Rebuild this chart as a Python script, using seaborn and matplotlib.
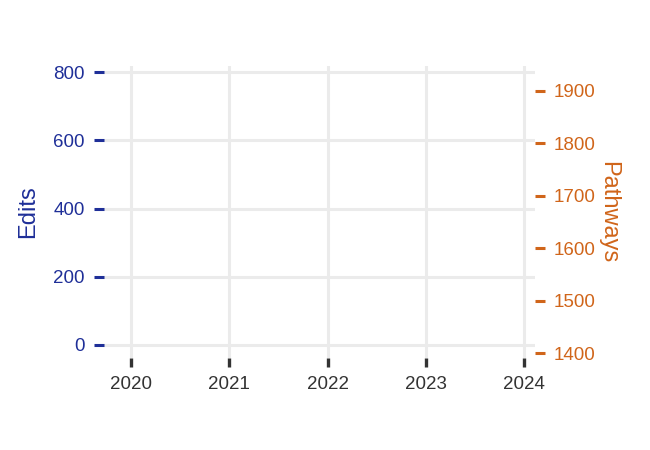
import numpy as np
import pandas as pd
import seaborn as sns
import matplotlib.pyplot as plt

# data (no observations are drawn in the reference, only the axes)
years = [2020, 2021, 2022, 2023, 2024]
edits = [np.nan, np.nan, np.nan, np.nan, np.nan]
pathways = [np.nan, np.nan, np.nan, np.nan, np.nan]
edit_ticks = [0, 200, 400, 600, 800]
pathway_ticks = [1400, 1500, 1600, 1700, 1800, 1900]

blue = '#1f2f98'
orange = '#d0651a'
grey = '#333333'

sns.set_theme(style='whitegrid')
plt.rcParams['font.family'] = ['Liberation Sans', 'DejaVu Sans']

df = pd.DataFrame({'year': years, 'edits': edits, 'pathways': pathways})

fig = plt.figure(figsize=(6.5, 4.5), dpi=100)
ax = fig.add_axes([0.16, 0.2044, 0.663, 0.649])
ax2 = ax.twinx()

sns.lineplot(data=df, x='year', y='edits', color=blue, ax=ax)
sns.lineplot(data=df, x='year', y='pathways', color=orange, ax=ax2)

ax.set_xlim(2019.725, 2024.11)
ax.set_ylim(-39, 818.5)
ax2.set_ylim(1390.5, 1947.7)
ax.set_xticks(years)
ax.set_xticklabels([str(y) for y in years])
ax.set_yticks(edit_ticks)
ax2.set_yticks(pathway_ticks)

ax.grid(True, color='#ebebeb', linewidth=2.2)
ax2.grid(False)
for a in (ax, ax2):
    for s in a.spines.values():
        s.set_visible(False)
    a.set_facecolor('none')

ax.tick_params(axis='x', colors=grey, length=6.5, width=2.4, pad=6.5, labelsize=13.5, bottom=True)
ax.tick_params(axis='y', colors=blue, length=7.2, width=2.2, pad=6.5, labelsize=13.5, left=True)
ax2.tick_params(axis='y', colors=orange, length=7.2, width=2.2, pad=6.5, labelsize=13.5, right=True)

ax.set_xlabel('')
ax.set_ylabel('Edits', color=blue, fontsize=17, labelpad=10)
ax2.set_ylabel('Pathways', color=orange, fontsize=17, rotation=270, labelpad=17)

fig.savefig('out.png', dpi=100)
